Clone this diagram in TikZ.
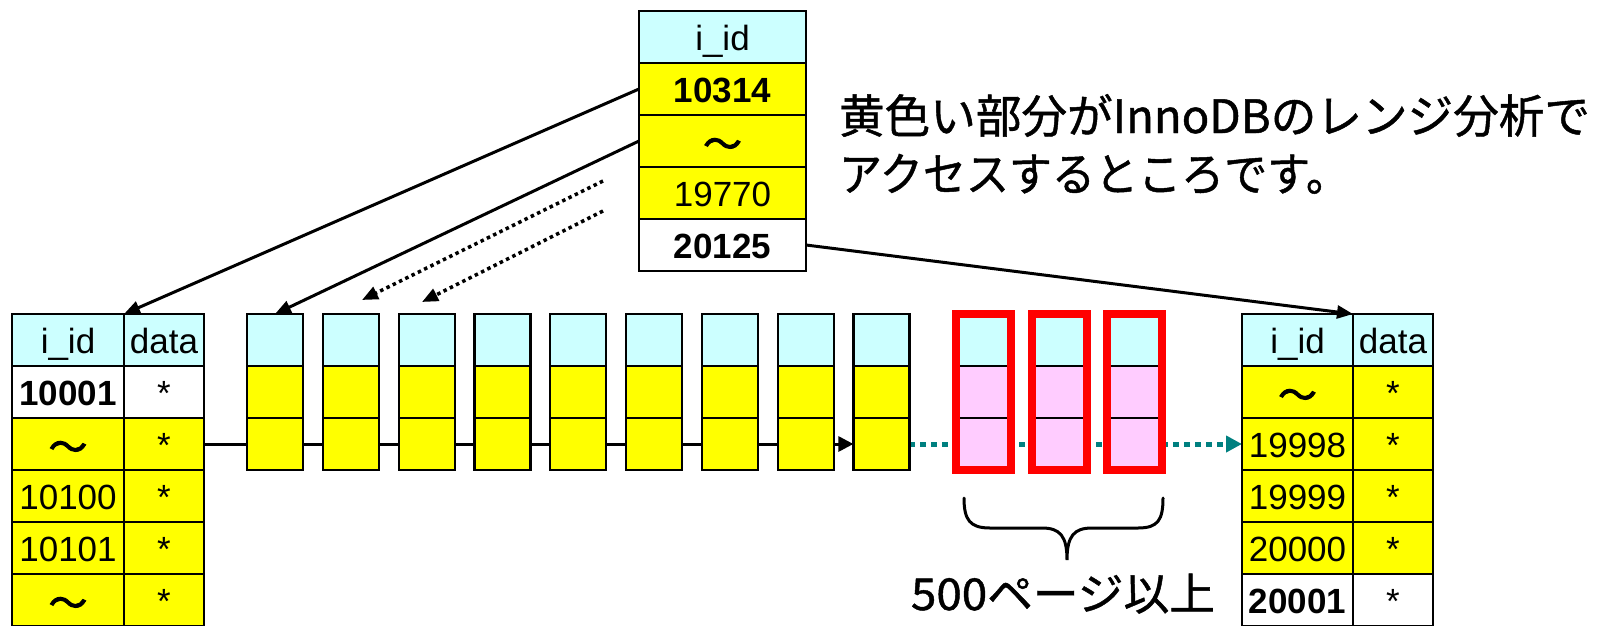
\documentclass[tikz,border=0pt]{standalone}
\usepackage{fontspec}
\setmainfont{Liberation Sans}
\newfontfamily\jp[FakeBold=1.0]{Noto Sans CJK JP}
\newfontfamily\jpb[FakeBold=2.5]{Noto Sans CJK JP}
\usetikzlibrary{arrows.meta}
\definecolor{hcyan}{HTML}{CCFFFF}
\definecolor{hyel}{HTML}{FFFF00}
\definecolor{hpink}{HTML}{FFCCFF}
\definecolor{hteal}{HTML}{008080}
\pgfdeclarelayer{bg}
\pgfsetlayers{bg,main}
\newcommand{\wav}{\raisebox{-4pt}{\scalebox{1.1}{\jpb ～}}}
\begin{document}
\begin{tikzpicture}[x=1pt,y=-1pt,
  cell/.style={draw=black, line width=2.2pt, anchor=north west, minimum height=52pt,
    inner sep=0pt, outer sep=0pt, text height=26pt, text depth=0pt,
    font=\fontsize{35}{40}\selectfont},
  hd/.style={cell, fill=hcyan},
  yl/.style={cell, fill=hyel},
  wh/.style={cell, fill=white},
  pk/.style={cell, fill=hpink, line width=2pt},
  bld/.style={font=\fontsize{35}{40}\selectfont\bfseries},
  conn/.style={line width=3pt, -{Triangle[length=16pt,width=13pt]}},
  dotconn/.style={line width=3.5pt, dash pattern=on 3.5pt off 3.5pt, -{Triangle[length=16pt,width=13pt]}},
  tealconn/.style={draw=hteal, line width=5pt, dash pattern=on 6pt off 5pt, -{Triangle[length=16pt,width=16pt, fill=hteal]}},
  caption/.style={anchor=base west, inner sep=0pt, outer sep=0pt}
]
\useasboundingbox (0,0) rectangle (1607,625);

% top index box
\node[hd, minimum width=167pt] (t0) at (639,11) {i\_id};
\node[yl, bld, minimum width=167pt] (t1) at (639,63) {10314};
\node[yl, minimum width=167pt] (t2) at (639,115) {\wav};
\node[yl, minimum width=167pt] (t3) at (639,167) {19770};
\node[wh, bld, minimum width=167pt] (t4) at (639,219) {20125};

% left table
\node[hd, minimum width=112pt] (la0) at (12,314) {i\_id};
\node[hd, minimum width=80pt] (ld0) at (124,314) {data};
\node[wh, bld, minimum width=112pt] (la1) at (12,366) {10001};
\node[wh, minimum width=80pt] (ld1) at (124,366) {*};
\node[yl, minimum width=112pt] (la2) at (12,418) {\wav};
\node[yl, minimum width=80pt] (ld2) at (124,418) {*};
\node[yl, minimum width=112pt] (la3) at (12,470) {10100};
\node[yl, minimum width=80pt] (ld3) at (124,470) {*};
\node[yl, minimum width=112pt] (la4) at (12,522) {10101};
\node[yl, minimum width=80pt] (ld4) at (124,522) {*};
\node[yl, minimum width=112pt] (la5) at (12,574) {\wav};
\node[yl, minimum width=80pt] (ld5) at (124,574) {*};

% right table
\node[hd, minimum width=111pt] (ra0) at (1242,314) {i\_id};
\node[hd, minimum width=80pt] (rd0) at (1353,314) {data};
\node[yl, minimum width=111pt] (ra1) at (1242,366) {\wav};
\node[yl, minimum width=80pt] (rd1) at (1353,366) {*};
\node[yl, minimum width=111pt] (ra2) at (1242,418) {19998};
\node[yl, minimum width=80pt] (rd2) at (1353,418) {*};
\node[yl, minimum width=111pt] (ra3) at (1242,470) {19999};
\node[yl, minimum width=80pt] (rd3) at (1353,470) {*};
\node[yl, minimum width=111pt] (ra4) at (1242,522) {20000};
\node[yl, minimum width=80pt] (rd4) at (1353,522) {*};
\node[wh, bld, minimum width=111pt] (ra5) at (1242,574) {20001};
\node[wh, minimum width=80pt] (rd5) at (1353,574) {*};

% leaf pages
\foreach \i [evaluate=\i as \x using 247+75.8*(\i-1)] in {1,...,9} {
  \node[hd, minimum width=56pt] (p\i-a) at (\x,314) {};
  \node[yl, minimum width=56pt] (p\i-b) at (\x,366) {};
  \node[yl, minimum width=56pt] (p\i-c) at (\x,418) {};
}
% red pages
\foreach \i [evaluate=\i as \x using 956+75.5*(\i-1)] in {1,2,3} {
  \node[hd, line width=2pt, minimum width=55pt] (r\i-a) at (\x,314) {};
  \node[pk, minimum width=55pt] (r\i-b) at (\x,366) {};
  \node[pk, minimum width=55pt] (r\i-c) at (\x,418) {};
  \draw[red, line width=8pt] (r\i-a.north west) rectangle (r\i-c.south east);
}

% linked list connectors (behind)
\begin{pgfonlayer}{bg}
\draw[line width=3pt, -{Triangle[length=15pt,width=15pt]}] (ld2.east) -- (p9-c.west);
\draw[tealconn] (p9-c.east) -- (ra2.west);
\end{pgfonlayer}

% pointers from index
\draw[conn] (t1.west) -- (la0.north east);
\draw[conn] (t2.west) -- (p1-a.north);
\coordinate (d1s) at (603,181);
\coordinate (d1e) at (362,300);
\coordinate (d2s) at (603,211);
\coordinate (d2e) at (422,302);
\draw[dotconn] (d1s) -- (d1e);
\draw[dotconn] (d2s) -- (d2e);
\draw[conn] (t4.east) -- (ra0.north east);

% brace
\draw[line width=3pt, line cap=round] (964,498) .. controls (964,520) and (970,528) .. (990,528)
  -- (1042,528) .. controls (1060,528) and (1067,536) .. (1067,560)
  .. controls (1067,536) and (1074,528) .. (1092,528)
  -- (1138,528) .. controls (1158,528) and (1163,520) .. (1163,498);

% texts
\node[caption] (cap1) at (839,133) {\resizebox{751pt}{\height}{\jp\fontsize{46}{46}\selectfont 黄色い部分がInnoDBのレンジ分析で}};
\node[caption] (cap2) at (839,191) {\resizebox{510pt}{\height}{\jp\fontsize{46}{46}\selectfont アクセスするところです。}};
\node[caption] (cnt) at (911,610) {\resizebox{304pt}{\height}{\jp\fontsize{44}{44}\selectfont 500ページ以上}};
\end{tikzpicture}
\end{document}
